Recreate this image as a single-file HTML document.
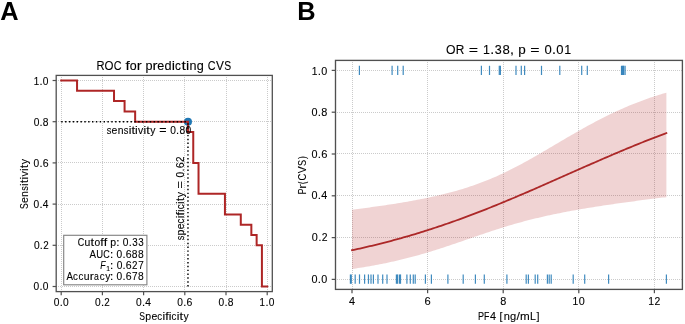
<!DOCTYPE html>
<html><head><meta charset="utf-8"><style>
html,body{margin:0;padding:0;background:#fff;}
body{width:685px;height:324px;overflow:hidden;}
svg{display:block;will-change:transform;}
text{font-family:"Liberation Sans",sans-serif;}
</style></head><body>
<svg width="685" height="324" viewBox="0 0 685 324" font-family="Liberation Sans, sans-serif">
<rect width="685" height="324" fill="#fff"/>
<text x="0.3" y="20.2" font-size="25.4" font-weight="bold" fill="#000">A</text>
<text x="297.3" y="20.2" font-size="25.4" font-weight="bold" fill="#000">B</text>
<line x1="61.50" y1="75" x2="61.50" y2="291.6" stroke="#cbcbcb" stroke-width="1" stroke-dasharray="1 1"/>
<line x1="56" y1="286.50" x2="272.3" y2="286.50" stroke="#cbcbcb" stroke-width="1" stroke-dasharray="1 1"/>
<line x1="102.50" y1="75" x2="102.50" y2="291.6" stroke="#cbcbcb" stroke-width="1" stroke-dasharray="1 1"/>
<line x1="56" y1="245.50" x2="272.3" y2="245.50" stroke="#cbcbcb" stroke-width="1" stroke-dasharray="1 1"/>
<line x1="143.50" y1="75" x2="143.50" y2="291.6" stroke="#cbcbcb" stroke-width="1" stroke-dasharray="1 1"/>
<line x1="56" y1="204.50" x2="272.3" y2="204.50" stroke="#cbcbcb" stroke-width="1" stroke-dasharray="1 1"/>
<line x1="184.50" y1="75" x2="184.50" y2="291.6" stroke="#cbcbcb" stroke-width="1" stroke-dasharray="1 1"/>
<line x1="56" y1="162.50" x2="272.3" y2="162.50" stroke="#cbcbcb" stroke-width="1" stroke-dasharray="1 1"/>
<line x1="226.50" y1="75" x2="226.50" y2="291.6" stroke="#cbcbcb" stroke-width="1" stroke-dasharray="1 1"/>
<line x1="56" y1="121.50" x2="272.3" y2="121.50" stroke="#cbcbcb" stroke-width="1" stroke-dasharray="1 1"/>
<line x1="267.50" y1="75" x2="267.50" y2="291.6" stroke="#cbcbcb" stroke-width="1" stroke-dasharray="1 1"/>
<line x1="56" y1="80.50" x2="272.3" y2="80.50" stroke="#cbcbcb" stroke-width="1" stroke-dasharray="1 1"/>
<circle cx="187.97" cy="121.70" r="4.0" fill="#1f77b4"/>
<path d="M61.20,80.50 L77.05,80.50 L77.05,90.80 L114.02,90.80 L114.02,101.10 L124.58,101.10 L124.58,111.40 L135.15,111.40 L135.15,121.70 L187.97,121.70 L187.97,132.00 L193.25,132.00 L193.25,162.90 L198.53,162.90 L198.53,193.80 L224.94,193.80 L224.94,214.40 L240.79,214.40 L240.79,224.70 L251.35,224.70 L251.35,235.00 L256.64,235.00 L256.64,245.30 L261.92,245.30 L261.92,286.50 L267.20,286.50" fill="none" stroke="#ae2626" stroke-width="2" stroke-linejoin="miter" stroke-linecap="square"/>
<line x1="61.20" y1="121.70" x2="187.97" y2="121.70" stroke="#000" stroke-width="1.45" stroke-dasharray="1.45 2.4"/>
<line x1="187.97" y1="286.50" x2="187.97" y2="121.70" stroke="#000" stroke-width="1.45" stroke-dasharray="1.45 2.4"/>
<g font-size="10.15" fill="#000" stroke="#000" stroke-width="0.1"><text transform="translate(109.06 133.50) scale(0.913 1)" text-anchor="middle">s</text><text transform="translate(114.51 133.50) scale(1.029 1)" text-anchor="middle">e</text><text transform="translate(120.55 133.50) scale(1.027 1)" text-anchor="middle">n</text><text transform="translate(126.17 133.50) scale(0.913 1)" text-anchor="middle">s</text><text transform="translate(129.98 133.50) scale(1.191 1)" text-anchor="middle">i</text><text transform="translate(133.18 133.50) scale(1.273 1)" text-anchor="middle">t</text><text transform="translate(136.46 133.50) scale(1.191 1)" text-anchor="middle">i</text><text transform="translate(140.66 133.50) scale(1.028 1)" text-anchor="middle">v</text><text transform="translate(144.87 133.50) scale(1.191 1)" text-anchor="middle">i</text><text transform="translate(148.06 133.50) scale(1.273 1)" text-anchor="middle">t</text><text transform="translate(152.85 133.50) scale(1.023 1)" text-anchor="middle">y</text><text transform="translate(162.85 133.50) scale(1.227 1)" text-anchor="middle">=</text><text transform="translate(173.04 133.50) scale(1.004 1)" text-anchor="middle">0</text><text transform="translate(177.65 133.50) scale(1.090 1)" text-anchor="middle">.</text><text transform="translate(182.27 133.50) scale(1.015 1)" text-anchor="middle">8</text><text transform="translate(188.42 133.50) scale(1.004 1)" text-anchor="middle">0</text></g>
<g font-size="10.15" fill="#000" stroke="#000" stroke-width="0.1"><text transform="translate(183.90 0) rotate(-90) translate(-238.05 0) scale(0.913 1)" text-anchor="middle">s</text><text transform="translate(183.90 0) rotate(-90) translate(-232.47 0) scale(1.036 1)" text-anchor="middle">p</text><text transform="translate(183.90 0) rotate(-90) translate(-226.47 0) scale(1.029 1)" text-anchor="middle">e</text><text transform="translate(183.90 0) rotate(-90) translate(-220.97 0) scale(0.956 1)" text-anchor="middle">c</text><text transform="translate(183.90 0) rotate(-90) translate(-216.85 0) scale(1.191 1)" text-anchor="middle">i</text><text transform="translate(183.90 0) rotate(-90) translate(-213.70 0) scale(1.251 1)" text-anchor="middle">f</text><text transform="translate(183.90 0) rotate(-90) translate(-210.75 0) scale(1.191 1)" text-anchor="middle">i</text><text transform="translate(183.90 0) rotate(-90) translate(-206.87 0) scale(0.956 1)" text-anchor="middle">c</text><text transform="translate(183.90 0) rotate(-90) translate(-202.75 0) scale(1.191 1)" text-anchor="middle">i</text><text transform="translate(183.90 0) rotate(-90) translate(-199.55 0) scale(1.273 1)" text-anchor="middle">t</text><text transform="translate(183.90 0) rotate(-90) translate(-194.76 0) scale(1.023 1)" text-anchor="middle">y</text><text transform="translate(183.90 0) rotate(-90) translate(-184.77 0) scale(1.227 1)" text-anchor="middle">=</text><text transform="translate(183.90 0) rotate(-90) translate(-174.58 0) scale(1.004 1)" text-anchor="middle">0</text><text transform="translate(183.90 0) rotate(-90) translate(-169.97 0) scale(1.090 1)" text-anchor="middle">.</text><text transform="translate(183.90 0) rotate(-90) translate(-165.35 0) scale(1.039 1)" text-anchor="middle">6</text><text transform="translate(183.90 0) rotate(-90) translate(-159.33 0) scale(0.968 1)" text-anchor="middle">2</text></g>
<rect x="63.7" y="235.3" width="83.2" height="49.5" fill="#fff" stroke="#858585" stroke-width="1.15"/>
<g font-size="10.15" fill="#000" stroke="#000" stroke-width="0.1"><text transform="translate(80.93 246.00) scale(0.884 1)" text-anchor="middle">C</text><text transform="translate(87.40 246.00) scale(1.027 1)" text-anchor="middle">u</text><text transform="translate(92.34 246.00) scale(1.273 1)" text-anchor="middle">t</text><text transform="translate(97.24 246.00) scale(1.013 1)" text-anchor="middle">o</text><text transform="translate(102.00 246.00) scale(1.251 1)" text-anchor="middle">f</text><text transform="translate(105.40 246.00) scale(1.251 1)" text-anchor="middle">f</text><text transform="translate(113.20 246.00) scale(1.036 1)" text-anchor="middle">p</text><text transform="translate(117.84 246.00) scale(1.155 1)" text-anchor="middle">:</text><text transform="translate(125.62 246.00) scale(1.004 1)" text-anchor="middle">0</text><text transform="translate(130.23 246.00) scale(1.090 1)" text-anchor="middle">.</text><text transform="translate(134.86 246.00) scale(0.964 1)" text-anchor="middle">3</text><text transform="translate(141.01 246.00) scale(0.964 1)" text-anchor="middle">3</text></g>
<g font-size="10.15" fill="#000" stroke="#000" stroke-width="0.1"><text transform="translate(92.81 258.00) scale(0.959 1)" text-anchor="middle">A</text><text transform="translate(99.66 258.00) scale(0.936 1)" text-anchor="middle">U</text><text transform="translate(106.52 258.00) scale(0.884 1)" text-anchor="middle">C</text><text transform="translate(111.58 258.00) scale(1.155 1)" text-anchor="middle">:</text><text transform="translate(119.35 258.00) scale(1.004 1)" text-anchor="middle">0</text><text transform="translate(123.96 258.00) scale(1.090 1)" text-anchor="middle">.</text><text transform="translate(128.58 258.00) scale(1.039 1)" text-anchor="middle">6</text><text transform="translate(134.73 258.00) scale(1.015 1)" text-anchor="middle">8</text><text transform="translate(140.88 258.00) scale(1.015 1)" text-anchor="middle">8</text></g>
<g font-size="10.15" fill="#000" stroke="#000" stroke-width="0.1" font-style="italic"><text transform="translate(102.87 269.30) scale(0.851 1)" text-anchor="middle">F</text></g>
<g font-size="7.11" fill="#000" stroke="#000" stroke-width="0.1"><text transform="translate(108.08 271.40) scale(0.959 1)" text-anchor="middle">1</text></g>
<g font-size="10.15" fill="#000" stroke="#000" stroke-width="0.1"><text transform="translate(111.74 269.30) scale(1.155 1)" text-anchor="middle">:</text><text transform="translate(119.52 269.30) scale(1.004 1)" text-anchor="middle">0</text><text transform="translate(124.13 269.30) scale(1.090 1)" text-anchor="middle">.</text><text transform="translate(128.74 269.30) scale(1.039 1)" text-anchor="middle">6</text><text transform="translate(134.77 269.30) scale(0.968 1)" text-anchor="middle">2</text><text transform="translate(141.03 269.30) scale(0.982 1)" text-anchor="middle">7</text></g>
<g font-size="10.15" fill="#000" stroke="#000" stroke-width="0.1"><text transform="translate(69.81 280.20) scale(0.959 1)" text-anchor="middle">A</text><text transform="translate(75.49 280.20) scale(0.956 1)" text-anchor="middle">c</text><text transform="translate(80.81 280.20) scale(0.956 1)" text-anchor="middle">c</text><text transform="translate(86.62 280.20) scale(1.027 1)" text-anchor="middle">u</text><text transform="translate(91.81 280.20) scale(1.225 1)" text-anchor="middle">r</text><text transform="translate(96.31 280.20) scale(0.856 1)" text-anchor="middle">a</text><text transform="translate(102.16 280.20) scale(0.956 1)" text-anchor="middle">c</text><text transform="translate(107.79 280.20) scale(1.023 1)" text-anchor="middle">y</text><text transform="translate(111.58 280.20) scale(1.155 1)" text-anchor="middle">:</text><text transform="translate(119.35 280.20) scale(1.004 1)" text-anchor="middle">0</text><text transform="translate(123.96 280.20) scale(1.090 1)" text-anchor="middle">.</text><text transform="translate(128.58 280.20) scale(1.039 1)" text-anchor="middle">6</text><text transform="translate(134.71 280.20) scale(0.982 1)" text-anchor="middle">7</text><text transform="translate(140.88 280.20) scale(1.015 1)" text-anchor="middle">8</text></g>
<rect x="56.2" y="75.4" width="216.10" height="216.20" fill="none" stroke="#505050" stroke-width="1.3"/>
<line x1="61.20" y1="291.6" x2="61.20" y2="295.20" stroke="#505050" stroke-width="1.2"/>
<line x1="56.2" y1="286.50" x2="52.60" y2="286.50" stroke="#505050" stroke-width="1.2"/>
<g font-size="10.15" fill="#000" stroke="#000" stroke-width="0.1"><text transform="translate(56.59 306.30) scale(1.004 1)" text-anchor="middle">0</text><text transform="translate(61.20 306.30) scale(1.090 1)" text-anchor="middle">.</text><text transform="translate(65.81 306.30) scale(1.004 1)" text-anchor="middle">0</text></g>
<g font-size="10.15" fill="#000" stroke="#000" stroke-width="0.1"><text transform="translate(36.44 290.00) scale(1.004 1)" text-anchor="middle">0</text><text transform="translate(41.05 290.00) scale(1.090 1)" text-anchor="middle">.</text><text transform="translate(45.66 290.00) scale(1.004 1)" text-anchor="middle">0</text></g>
<line x1="102.40" y1="291.6" x2="102.40" y2="295.20" stroke="#505050" stroke-width="1.2"/>
<line x1="56.2" y1="245.30" x2="52.60" y2="245.30" stroke="#505050" stroke-width="1.2"/>
<g font-size="10.15" fill="#000" stroke="#000" stroke-width="0.1"><text transform="translate(97.95 306.30) scale(1.004 1)" text-anchor="middle">0</text><text transform="translate(102.56 306.30) scale(1.090 1)" text-anchor="middle">.</text><text transform="translate(107.05 306.30) scale(0.968 1)" text-anchor="middle">2</text></g>
<g font-size="10.15" fill="#000" stroke="#000" stroke-width="0.1"><text transform="translate(36.76 249.00) scale(1.004 1)" text-anchor="middle">0</text><text transform="translate(41.37 249.00) scale(1.090 1)" text-anchor="middle">.</text><text transform="translate(45.86 249.00) scale(0.968 1)" text-anchor="middle">2</text></g>
<line x1="143.60" y1="291.6" x2="143.60" y2="295.20" stroke="#505050" stroke-width="1.2"/>
<line x1="56.2" y1="204.10" x2="52.60" y2="204.10" stroke="#505050" stroke-width="1.2"/>
<g font-size="10.15" fill="#000" stroke="#000" stroke-width="0.1"><text transform="translate(138.94 306.30) scale(1.004 1)" text-anchor="middle">0</text><text transform="translate(143.55 306.30) scale(1.090 1)" text-anchor="middle">.</text><text transform="translate(148.16 306.30) scale(1.004 1)" text-anchor="middle">4</text></g>
<g font-size="10.15" fill="#000" stroke="#000" stroke-width="0.1"><text transform="translate(36.34 208.00) scale(1.004 1)" text-anchor="middle">0</text><text transform="translate(40.95 208.00) scale(1.090 1)" text-anchor="middle">.</text><text transform="translate(45.56 208.00) scale(1.004 1)" text-anchor="middle">4</text></g>
<line x1="184.80" y1="291.6" x2="184.80" y2="295.20" stroke="#505050" stroke-width="1.2"/>
<line x1="56.2" y1="162.90" x2="52.60" y2="162.90" stroke="#505050" stroke-width="1.2"/>
<g font-size="10.15" fill="#000" stroke="#000" stroke-width="0.1"><text transform="translate(180.17 306.30) scale(1.004 1)" text-anchor="middle">0</text><text transform="translate(184.78 306.30) scale(1.090 1)" text-anchor="middle">.</text><text transform="translate(189.40 306.30) scale(1.039 1)" text-anchor="middle">6</text></g>
<g font-size="10.15" fill="#000" stroke="#000" stroke-width="0.1"><text transform="translate(36.40 167.00) scale(1.004 1)" text-anchor="middle">0</text><text transform="translate(41.01 167.00) scale(1.090 1)" text-anchor="middle">.</text><text transform="translate(45.63 167.00) scale(1.039 1)" text-anchor="middle">6</text></g>
<line x1="226.00" y1="291.6" x2="226.00" y2="295.20" stroke="#505050" stroke-width="1.2"/>
<line x1="56.2" y1="121.70" x2="52.60" y2="121.70" stroke="#505050" stroke-width="1.2"/>
<g font-size="10.15" fill="#000" stroke="#000" stroke-width="0.1"><text transform="translate(221.40 306.30) scale(1.004 1)" text-anchor="middle">0</text><text transform="translate(226.01 306.30) scale(1.090 1)" text-anchor="middle">.</text><text transform="translate(230.62 306.30) scale(1.015 1)" text-anchor="middle">8</text></g>
<g font-size="10.15" fill="#000" stroke="#000" stroke-width="0.1"><text transform="translate(36.46 126.00) scale(1.004 1)" text-anchor="middle">0</text><text transform="translate(41.07 126.00) scale(1.090 1)" text-anchor="middle">.</text><text transform="translate(45.68 126.00) scale(1.015 1)" text-anchor="middle">8</text></g>
<line x1="267.20" y1="291.6" x2="267.20" y2="295.20" stroke="#505050" stroke-width="1.2"/>
<line x1="56.2" y1="80.50" x2="52.60" y2="80.50" stroke="#505050" stroke-width="1.2"/>
<g font-size="10.15" fill="#000" stroke="#000" stroke-width="0.1"><text transform="translate(262.33 306.30) scale(0.959 1)" text-anchor="middle">1</text><text transform="translate(266.99 306.30) scale(1.090 1)" text-anchor="middle">.</text><text transform="translate(271.60 306.30) scale(1.004 1)" text-anchor="middle">0</text></g>
<g font-size="10.15" fill="#000" stroke="#000" stroke-width="0.1"><text transform="translate(36.39 85.00) scale(0.959 1)" text-anchor="middle">1</text><text transform="translate(41.05 85.00) scale(1.090 1)" text-anchor="middle">.</text><text transform="translate(45.66 85.00) scale(1.004 1)" text-anchor="middle">0</text></g>
<g font-size="10.15" fill="#000" stroke="#000" stroke-width="0.1"><text transform="translate(142.13 319.60) scale(0.849 1)" text-anchor="middle">S</text><text transform="translate(148.27 319.60) scale(1.036 1)" text-anchor="middle">p</text><text transform="translate(154.28 319.60) scale(1.029 1)" text-anchor="middle">e</text><text transform="translate(159.78 319.60) scale(0.956 1)" text-anchor="middle">c</text><text transform="translate(163.90 319.60) scale(1.191 1)" text-anchor="middle">i</text><text transform="translate(167.04 319.60) scale(1.251 1)" text-anchor="middle">f</text><text transform="translate(169.99 319.60) scale(1.191 1)" text-anchor="middle">i</text><text transform="translate(173.87 319.60) scale(0.956 1)" text-anchor="middle">c</text><text transform="translate(177.99 319.60) scale(1.191 1)" text-anchor="middle">i</text><text transform="translate(181.19 319.60) scale(1.273 1)" text-anchor="middle">t</text><text transform="translate(185.98 319.60) scale(1.023 1)" text-anchor="middle">y</text></g>
<g font-size="10.15" fill="#000" stroke="#000" stroke-width="0.1"><text transform="translate(27.90 0) rotate(-90) translate(-206.08 0) scale(0.849 1)" text-anchor="middle">S</text><text transform="translate(27.90 0) rotate(-90) translate(-200.06 0) scale(1.029 1)" text-anchor="middle">e</text><text transform="translate(27.90 0) rotate(-90) translate(-194.02 0) scale(1.027 1)" text-anchor="middle">n</text><text transform="translate(27.90 0) rotate(-90) translate(-188.40 0) scale(0.913 1)" text-anchor="middle">s</text><text transform="translate(27.90 0) rotate(-90) translate(-184.59 0) scale(1.191 1)" text-anchor="middle">i</text><text transform="translate(27.90 0) rotate(-90) translate(-181.40 0) scale(1.273 1)" text-anchor="middle">t</text><text transform="translate(27.90 0) rotate(-90) translate(-178.11 0) scale(1.191 1)" text-anchor="middle">i</text><text transform="translate(27.90 0) rotate(-90) translate(-173.92 0) scale(1.028 1)" text-anchor="middle">v</text><text transform="translate(27.90 0) rotate(-90) translate(-169.70 0) scale(1.191 1)" text-anchor="middle">i</text><text transform="translate(27.90 0) rotate(-90) translate(-166.51 0) scale(1.273 1)" text-anchor="middle">t</text><text transform="translate(27.90 0) rotate(-90) translate(-161.72 0) scale(1.023 1)" text-anchor="middle">y</text></g>
<g font-size="12.25" fill="#000" stroke="#000" stroke-width="0.1"><text transform="translate(100.53 69.60) scale(0.911 1)" text-anchor="middle">R</text><text transform="translate(108.97 69.60) scale(0.941 1)" text-anchor="middle">O</text><text transform="translate(117.58 69.60) scale(0.884 1)" text-anchor="middle">C</text><text transform="translate(127.60 69.60) scale(1.251 1)" text-anchor="middle">f</text><text transform="translate(133.10 69.60) scale(1.013 1)" text-anchor="middle">o</text><text transform="translate(139.21 69.60) scale(1.225 1)" text-anchor="middle">r</text><text transform="translate(148.95 69.60) scale(1.036 1)" text-anchor="middle">p</text><text transform="translate(155.12 69.60) scale(1.225 1)" text-anchor="middle">r</text><text transform="translate(160.74 69.60) scale(1.029 1)" text-anchor="middle">e</text><text transform="translate(167.94 69.60) scale(1.035 1)" text-anchor="middle">d</text><text transform="translate(173.34 69.60) scale(1.191 1)" text-anchor="middle">i</text><text transform="translate(178.03 69.60) scale(0.956 1)" text-anchor="middle">c</text><text transform="translate(183.61 69.60) scale(1.273 1)" text-anchor="middle">t</text><text transform="translate(187.57 69.60) scale(1.191 1)" text-anchor="middle">i</text><text transform="translate(192.91 69.60) scale(1.027 1)" text-anchor="middle">n</text><text transform="translate(200.22 69.60) scale(1.035 1)" text-anchor="middle">g</text><text transform="translate(211.72 69.60) scale(0.884 1)" text-anchor="middle">C</text><text transform="translate(219.84 69.60) scale(0.967 1)" text-anchor="middle">V</text><text transform="translate(227.60 69.60) scale(0.849 1)" text-anchor="middle">S</text></g>
<line x1="352.50" y1="60" x2="352.50" y2="289.4" stroke="#cbcbcb" stroke-width="1" stroke-dasharray="1 1"/>
<line x1="427.50" y1="60" x2="427.50" y2="289.4" stroke="#cbcbcb" stroke-width="1" stroke-dasharray="1 1"/>
<line x1="503.50" y1="60" x2="503.50" y2="289.4" stroke="#cbcbcb" stroke-width="1" stroke-dasharray="1 1"/>
<line x1="578.50" y1="60" x2="578.50" y2="289.4" stroke="#cbcbcb" stroke-width="1" stroke-dasharray="1 1"/>
<line x1="654.50" y1="60" x2="654.50" y2="289.4" stroke="#cbcbcb" stroke-width="1" stroke-dasharray="1 1"/>
<line x1="335" y1="279.50" x2="682.4" y2="279.50" stroke="#cbcbcb" stroke-width="1" stroke-dasharray="1 1"/>
<line x1="335" y1="237.50" x2="682.4" y2="237.50" stroke="#cbcbcb" stroke-width="1" stroke-dasharray="1 1"/>
<line x1="335" y1="195.50" x2="682.4" y2="195.50" stroke="#cbcbcb" stroke-width="1" stroke-dasharray="1 1"/>
<line x1="335" y1="153.50" x2="682.4" y2="153.50" stroke="#cbcbcb" stroke-width="1" stroke-dasharray="1 1"/>
<line x1="335" y1="112.50" x2="682.4" y2="112.50" stroke="#cbcbcb" stroke-width="1" stroke-dasharray="1 1"/>
<line x1="335" y1="70.50" x2="682.4" y2="70.50" stroke="#cbcbcb" stroke-width="1" stroke-dasharray="1 1"/>
<path d="M352.00,209.67 L353.98,209.43 L355.95,209.18 L357.93,208.93 L359.91,208.68 L361.89,208.43 L363.86,208.17 L365.84,207.91 L367.82,207.65 L369.80,207.38 L371.77,207.11 L373.75,206.84 L375.73,206.57 L377.70,206.29 L379.68,206.01 L381.66,205.73 L383.64,205.44 L385.61,205.15 L387.59,204.85 L389.57,204.55 L391.54,204.25 L393.52,203.94 L395.50,203.63 L397.48,203.31 L399.45,202.99 L401.43,202.67 L403.41,202.33 L405.39,202.00 L407.36,201.66 L409.34,201.31 L411.32,200.96 L413.29,200.60 L415.27,200.23 L417.25,199.86 L419.23,199.48 L421.20,199.10 L423.18,198.70 L425.16,198.30 L427.14,197.90 L429.11,197.48 L431.09,197.06 L433.07,196.62 L435.04,196.18 L437.02,195.73 L439.00,195.27 L440.98,194.80 L442.95,194.33 L444.93,193.84 L446.91,193.34 L448.89,192.82 L450.86,192.30 L452.84,191.77 L454.82,191.22 L456.79,190.66 L458.77,190.09 L460.75,189.50 L462.73,188.90 L464.70,188.29 L466.68,187.67 L468.66,187.02 L470.63,186.37 L472.61,185.70 L474.59,185.01 L476.57,184.31 L478.54,183.59 L480.52,182.85 L482.50,182.10 L484.48,181.34 L486.45,180.55 L488.43,179.75 L490.41,178.94 L492.38,178.10 L494.36,177.25 L496.34,176.38 L498.32,175.50 L500.29,174.60 L502.27,173.68 L504.25,172.75 L506.23,171.80 L508.20,170.83 L510.18,169.85 L512.16,168.86 L514.13,167.85 L516.11,166.83 L518.09,165.79 L520.07,164.74 L522.04,163.68 L524.02,162.60 L526.00,161.52 L527.98,160.42 L529.95,159.32 L531.93,158.20 L533.91,157.08 L535.88,155.95 L537.86,154.81 L539.84,153.66 L541.82,152.51 L543.79,151.36 L545.77,150.20 L547.75,149.04 L549.72,147.87 L551.70,146.70 L553.68,145.53 L555.66,144.36 L557.63,143.19 L559.61,142.02 L561.59,140.86 L563.57,139.69 L565.54,138.53 L567.52,137.37 L569.50,136.22 L571.47,135.07 L573.45,133.92 L575.43,132.79 L577.41,131.65 L579.38,130.53 L581.36,129.41 L583.34,128.30 L585.32,127.20 L587.29,126.11 L589.27,125.03 L591.25,123.96 L593.22,122.90 L595.20,121.85 L597.18,120.81 L599.16,119.78 L601.13,118.76 L603.11,117.76 L605.09,116.77 L607.07,115.79 L609.04,114.82 L611.02,113.86 L613.00,112.92 L614.97,111.99 L616.95,111.08 L618.93,110.18 L620.91,109.29 L622.88,108.41 L624.86,107.55 L626.84,106.71 L628.81,105.87 L630.79,105.05 L632.77,104.25 L634.75,103.46 L636.72,102.68 L638.70,101.92 L640.68,101.17 L642.66,100.43 L644.63,99.71 L646.61,99.00 L648.59,98.30 L650.56,97.62 L652.54,96.95 L654.52,96.30 L656.50,95.66 L658.47,95.03 L660.45,94.41 L662.43,93.81 L664.41,93.22 L666.38,92.64 L666.38,197.14 L664.41,197.38 L662.43,197.62 L660.45,197.86 L658.47,198.10 L656.50,198.35 L654.52,198.60 L652.54,198.84 L650.56,199.09 L648.59,199.34 L646.61,199.59 L644.63,199.85 L642.66,200.10 L640.68,200.36 L638.70,200.62 L636.72,200.87 L634.75,201.14 L632.77,201.40 L630.79,201.66 L628.81,201.93 L626.84,202.20 L624.86,202.47 L622.88,202.74 L620.91,203.02 L618.93,203.30 L616.95,203.58 L614.97,203.86 L613.00,204.14 L611.02,204.43 L609.04,204.72 L607.07,205.01 L605.09,205.31 L603.11,205.61 L601.13,205.91 L599.16,206.21 L597.18,206.52 L595.20,206.83 L593.22,207.14 L591.25,207.46 L589.27,207.78 L587.29,208.11 L585.32,208.44 L583.34,208.77 L581.36,209.11 L579.38,209.45 L577.41,209.79 L575.43,210.14 L573.45,210.50 L571.47,210.86 L569.50,211.22 L567.52,211.59 L565.54,211.97 L563.57,212.35 L561.59,212.74 L559.61,213.13 L557.63,213.53 L555.66,213.93 L553.68,214.34 L551.70,214.76 L549.72,215.18 L547.75,215.61 L545.77,216.05 L543.79,216.50 L541.82,216.95 L539.84,217.41 L537.86,217.88 L535.88,218.35 L533.91,218.83 L531.93,219.32 L529.95,219.82 L527.98,220.33 L526.00,220.85 L524.02,221.37 L522.04,221.90 L520.07,222.44 L518.09,222.99 L516.11,223.55 L514.13,224.11 L512.16,224.69 L510.18,225.27 L508.20,225.86 L506.23,226.46 L504.25,227.06 L502.27,227.67 L500.29,228.29 L498.32,228.92 L496.34,229.55 L494.36,230.19 L492.38,230.84 L490.41,231.49 L488.43,232.15 L486.45,232.81 L484.48,233.48 L482.50,234.15 L480.52,234.82 L478.54,235.50 L476.57,236.18 L474.59,236.86 L472.61,237.54 L470.63,238.22 L468.66,238.91 L466.68,239.59 L464.70,240.28 L462.73,240.96 L460.75,241.64 L458.77,242.32 L456.79,243.00 L454.82,243.67 L452.84,244.34 L450.86,245.01 L448.89,245.67 L446.91,246.33 L444.93,246.98 L442.95,247.63 L440.98,248.27 L439.00,248.91 L437.02,249.54 L435.04,250.16 L433.07,250.78 L431.09,251.39 L429.11,251.99 L427.14,252.58 L425.16,253.17 L423.18,253.75 L421.20,254.32 L419.23,254.88 L417.25,255.44 L415.27,255.98 L413.29,256.52 L411.32,257.05 L409.34,257.57 L407.36,258.08 L405.39,258.58 L403.41,259.08 L401.43,259.56 L399.45,260.04 L397.48,260.51 L395.50,260.97 L393.52,261.42 L391.54,261.86 L389.57,262.29 L387.59,262.71 L385.61,263.13 L383.64,263.54 L381.66,263.94 L379.68,264.33 L377.70,264.71 L375.73,265.08 L373.75,265.45 L371.77,265.81 L369.80,266.16 L367.82,266.50 L365.84,266.83 L363.86,267.16 L361.89,267.48 L359.91,267.79 L357.93,268.10 L355.95,268.39 L353.98,268.68 L352.00,268.97 Z" fill="#b22222" fill-opacity="0.2" stroke="none"/>
<path d="M352.00,250.23 L353.98,249.81 L355.95,249.38 L357.93,248.95 L359.91,248.51 L361.89,248.07 L363.86,247.62 L365.84,247.16 L367.82,246.70 L369.80,246.24 L371.77,245.77 L373.75,245.29 L375.73,244.81 L377.70,244.32 L379.68,243.83 L381.66,243.33 L383.64,242.83 L385.61,242.32 L387.59,241.81 L389.57,241.29 L391.54,240.76 L393.52,240.23 L395.50,239.69 L397.48,239.15 L399.45,238.60 L401.43,238.05 L403.41,237.49 L405.39,236.92 L407.36,236.35 L409.34,235.78 L411.32,235.20 L413.29,234.61 L415.27,234.02 L417.25,233.42 L419.23,232.81 L421.20,232.20 L423.18,231.59 L425.16,230.97 L427.14,230.34 L429.11,229.71 L431.09,229.07 L433.07,228.42 L435.04,227.77 L437.02,227.12 L439.00,226.46 L440.98,225.79 L442.95,225.12 L444.93,224.45 L446.91,223.76 L448.89,223.08 L450.86,222.38 L452.84,221.69 L454.82,220.98 L456.79,220.27 L458.77,219.56 L460.75,218.84 L462.73,218.12 L464.70,217.39 L466.68,216.65 L468.66,215.92 L470.63,215.17 L472.61,214.42 L474.59,213.67 L476.57,212.91 L478.54,212.15 L480.52,211.38 L482.50,210.61 L484.48,209.83 L486.45,209.05 L488.43,208.27 L490.41,207.48 L492.38,206.69 L494.36,205.89 L496.34,205.09 L498.32,204.28 L500.29,203.47 L502.27,202.66 L504.25,201.84 L506.23,201.02 L508.20,200.20 L510.18,199.37 L512.16,198.54 L514.13,197.71 L516.11,196.87 L518.09,196.04 L520.07,195.19 L522.04,194.35 L524.02,193.50 L526.00,192.65 L527.98,191.80 L529.95,190.95 L531.93,190.09 L533.91,189.23 L535.88,188.37 L537.86,187.51 L539.84,186.64 L541.82,185.78 L543.79,184.91 L545.77,184.04 L547.75,183.17 L549.72,182.30 L551.70,181.42 L553.68,180.55 L555.66,179.68 L557.63,178.80 L559.61,177.93 L561.59,177.05 L563.57,176.17 L565.54,175.30 L567.52,174.42 L569.50,173.55 L571.47,172.67 L573.45,171.79 L575.43,170.92 L577.41,170.04 L579.38,169.17 L581.36,168.30 L583.34,167.42 L585.32,166.55 L587.29,165.68 L589.27,164.81 L591.25,163.95 L593.22,163.08 L595.20,162.22 L597.18,161.35 L599.16,160.49 L601.13,159.63 L603.11,158.78 L605.09,157.92 L607.07,157.07 L609.04,156.22 L611.02,155.37 L613.00,154.53 L614.97,153.69 L616.95,152.85 L618.93,152.01 L620.91,151.18 L622.88,150.35 L624.86,149.52 L626.84,148.70 L628.81,147.88 L630.79,147.07 L632.77,146.25 L634.75,145.44 L636.72,144.64 L638.70,143.84 L640.68,143.04 L642.66,142.25 L644.63,141.46 L646.61,140.68 L648.59,139.90 L650.56,139.12 L652.54,138.35 L654.52,137.58 L656.50,136.82 L658.47,136.06 L660.45,135.31 L662.43,134.56 L664.41,133.82 L666.38,133.08" fill="none" stroke="#ac2828" stroke-width="1.8" stroke-linecap="square"/>
<g stroke="#1f77b4" stroke-width="1.2" stroke-opacity="0.85"><line x1="359.40" y1="65.8" x2="359.40" y2="75.0"/><line x1="392.10" y1="65.8" x2="392.10" y2="75.0"/><line x1="397.70" y1="65.8" x2="397.70" y2="75.0"/><line x1="403.20" y1="65.8" x2="403.20" y2="75.0"/><line x1="481.40" y1="65.8" x2="481.40" y2="75.0"/><line x1="489.50" y1="65.8" x2="489.50" y2="75.0"/><line x1="499.30" y1="65.8" x2="499.30" y2="75.0"/><line x1="500.40" y1="65.8" x2="500.40" y2="75.0"/><line x1="516.00" y1="65.8" x2="516.00" y2="75.0"/><line x1="521.30" y1="65.8" x2="521.30" y2="75.0"/><line x1="524.60" y1="65.8" x2="524.60" y2="75.0"/><line x1="541.50" y1="65.8" x2="541.50" y2="75.0"/><line x1="559.80" y1="65.8" x2="559.80" y2="75.0"/><line x1="581.70" y1="65.8" x2="581.70" y2="75.0"/><line x1="587.30" y1="65.8" x2="587.30" y2="75.0"/><line x1="621.50" y1="65.8" x2="621.50" y2="75.0"/><line x1="622.30" y1="65.8" x2="622.30" y2="75.0"/><line x1="623.10" y1="65.8" x2="623.10" y2="75.0"/><line x1="623.70" y1="65.8" x2="623.70" y2="75.0"/><line x1="625.10" y1="65.8" x2="625.10" y2="75.0"/><line x1="350.40" y1="274.4" x2="350.40" y2="283.8"/><line x1="351.30" y1="274.4" x2="351.30" y2="283.8"/><line x1="355.20" y1="274.4" x2="355.20" y2="283.8"/><line x1="359.50" y1="274.4" x2="359.50" y2="283.8"/><line x1="364.60" y1="274.4" x2="364.60" y2="283.8"/><line x1="368.45" y1="274.4" x2="368.45" y2="283.8"/><line x1="371.00" y1="274.4" x2="371.00" y2="283.8"/><line x1="373.40" y1="274.4" x2="373.40" y2="283.8"/><line x1="378.00" y1="274.4" x2="378.00" y2="283.8"/><line x1="382.70" y1="274.4" x2="382.70" y2="283.8"/><line x1="387.00" y1="274.4" x2="387.00" y2="283.8"/><line x1="396.40" y1="274.4" x2="396.40" y2="283.8"/><line x1="397.50" y1="274.4" x2="397.50" y2="283.8"/><line x1="399.40" y1="274.4" x2="399.40" y2="283.8"/><line x1="400.50" y1="274.4" x2="400.50" y2="283.8"/><line x1="406.90" y1="274.4" x2="406.90" y2="283.8"/><line x1="410.30" y1="274.4" x2="410.30" y2="283.8"/><line x1="413.30" y1="274.4" x2="413.30" y2="283.8"/><line x1="415.20" y1="274.4" x2="415.20" y2="283.8"/><line x1="425.40" y1="274.4" x2="425.40" y2="283.8"/><line x1="431.40" y1="274.4" x2="431.40" y2="283.8"/><line x1="447.90" y1="274.4" x2="447.90" y2="283.8"/><line x1="463.20" y1="274.4" x2="463.20" y2="283.8"/><line x1="475.40" y1="274.4" x2="475.40" y2="283.8"/><line x1="484.30" y1="274.4" x2="484.30" y2="283.8"/><line x1="506.90" y1="274.4" x2="506.90" y2="283.8"/><line x1="526.20" y1="274.4" x2="526.20" y2="283.8"/><line x1="528.40" y1="274.4" x2="528.40" y2="283.8"/><line x1="535.20" y1="274.4" x2="535.20" y2="283.8"/><line x1="537.70" y1="274.4" x2="537.70" y2="283.8"/><line x1="547.40" y1="274.4" x2="547.40" y2="283.8"/><line x1="549.20" y1="274.4" x2="549.20" y2="283.8"/><line x1="551.20" y1="274.4" x2="551.20" y2="283.8"/><line x1="573.20" y1="274.4" x2="573.20" y2="283.8"/><line x1="584.70" y1="274.4" x2="584.70" y2="283.8"/><line x1="608.60" y1="274.4" x2="608.60" y2="283.8"/><line x1="666.40" y1="274.4" x2="666.40" y2="283.8"/></g>
<rect x="335.5" y="60.4" width="346.90" height="229.00" fill="none" stroke="#505050" stroke-width="1.35"/>
<line x1="352.00" y1="289.4" x2="352.00" y2="293.20" stroke="#505050" stroke-width="1.25"/>
<g font-size="10.76" fill="#000" stroke="#000" stroke-width="0.1"><text transform="translate(352.03 305.20) scale(1.004 1)" text-anchor="middle">4</text></g>
<line x1="427.60" y1="289.4" x2="427.60" y2="293.20" stroke="#505050" stroke-width="1.25"/>
<g font-size="10.76" fill="#000" stroke="#000" stroke-width="0.1"><text transform="translate(427.56 305.20) scale(1.039 1)" text-anchor="middle">6</text></g>
<line x1="503.20" y1="289.4" x2="503.20" y2="293.20" stroke="#505050" stroke-width="1.25"/>
<g font-size="10.76" fill="#000" stroke="#000" stroke-width="0.1"><text transform="translate(503.20 305.20) scale(1.015 1)" text-anchor="middle">8</text></g>
<line x1="578.80" y1="289.4" x2="578.80" y2="293.20" stroke="#505050" stroke-width="1.25"/>
<g font-size="10.76" fill="#000" stroke="#000" stroke-width="0.1"><text transform="translate(575.27 305.20) scale(0.959 1)" text-anchor="middle">1</text><text transform="translate(581.84 305.20) scale(1.004 1)" text-anchor="middle">0</text></g>
<line x1="654.40" y1="289.4" x2="654.40" y2="293.20" stroke="#505050" stroke-width="1.25"/>
<g font-size="10.76" fill="#000" stroke="#000" stroke-width="0.1"><text transform="translate(651.04 305.20) scale(0.959 1)" text-anchor="middle">1</text><text transform="translate(657.47 305.20) scale(0.968 1)" text-anchor="middle">2</text></g>
<line x1="335.5" y1="279.40" x2="331.70" y2="279.40" stroke="#505050" stroke-width="1.25"/>
<g font-size="10.76" fill="#000" stroke="#000" stroke-width="0.1"><text transform="translate(314.54 283.00) scale(1.004 1)" text-anchor="middle">0</text><text transform="translate(319.43 283.00) scale(1.090 1)" text-anchor="middle">.</text><text transform="translate(324.32 283.00) scale(1.004 1)" text-anchor="middle">0</text></g>
<line x1="335.5" y1="237.60" x2="331.70" y2="237.60" stroke="#505050" stroke-width="1.25"/>
<g font-size="10.76" fill="#000" stroke="#000" stroke-width="0.1"><text transform="translate(314.88 241.00) scale(1.004 1)" text-anchor="middle">0</text><text transform="translate(319.77 241.00) scale(1.090 1)" text-anchor="middle">.</text><text transform="translate(324.53 241.00) scale(0.968 1)" text-anchor="middle">2</text></g>
<line x1="335.5" y1="195.80" x2="331.70" y2="195.80" stroke="#505050" stroke-width="1.25"/>
<g font-size="10.76" fill="#000" stroke="#000" stroke-width="0.1"><text transform="translate(314.43 199.00) scale(1.004 1)" text-anchor="middle">0</text><text transform="translate(319.32 199.00) scale(1.090 1)" text-anchor="middle">.</text><text transform="translate(324.21 199.00) scale(1.004 1)" text-anchor="middle">4</text></g>
<line x1="335.5" y1="154.00" x2="331.70" y2="154.00" stroke="#505050" stroke-width="1.25"/>
<g font-size="10.76" fill="#000" stroke="#000" stroke-width="0.1"><text transform="translate(314.50 158.00) scale(1.004 1)" text-anchor="middle">0</text><text transform="translate(319.39 158.00) scale(1.090 1)" text-anchor="middle">.</text><text transform="translate(324.28 158.00) scale(1.039 1)" text-anchor="middle">6</text></g>
<line x1="335.5" y1="112.20" x2="331.70" y2="112.20" stroke="#505050" stroke-width="1.25"/>
<g font-size="10.76" fill="#000" stroke="#000" stroke-width="0.1"><text transform="translate(314.56 116.00) scale(1.004 1)" text-anchor="middle">0</text><text transform="translate(319.44 116.00) scale(1.090 1)" text-anchor="middle">.</text><text transform="translate(324.34 116.00) scale(1.015 1)" text-anchor="middle">8</text></g>
<line x1="335.5" y1="70.40" x2="331.70" y2="70.40" stroke="#505050" stroke-width="1.25"/>
<g font-size="10.76" fill="#000" stroke="#000" stroke-width="0.1"><text transform="translate(314.49 75.00) scale(0.959 1)" text-anchor="middle">1</text><text transform="translate(319.43 75.00) scale(1.090 1)" text-anchor="middle">.</text><text transform="translate(324.32 75.00) scale(1.004 1)" text-anchor="middle">0</text></g>
<g font-size="10.76" fill="#000" stroke="#000" stroke-width="0.1"><text transform="translate(480.92 319.90) scale(0.842 1)" text-anchor="middle">P</text><text transform="translate(486.78 319.90) scale(0.816 1)" text-anchor="middle">F</text><text transform="translate(492.97 319.90) scale(1.004 1)" text-anchor="middle">4</text><text transform="translate(501.09 319.90) scale(0.992 1)" text-anchor="middle">[</text><text transform="translate(506.76 319.90) scale(1.027 1)" text-anchor="middle">n</text><text transform="translate(513.18 319.90) scale(1.035 1)" text-anchor="middle">g</text><text transform="translate(518.22 319.90) scale(1.155 1)" text-anchor="middle">/</text><text transform="translate(524.97 319.90) scale(1.085 1)" text-anchor="middle">m</text><text transform="translate(533.00 319.90) scale(0.980 1)" text-anchor="middle">L</text><text transform="translate(538.04 319.90) scale(0.992 1)" text-anchor="middle">]</text></g>
<g font-size="10.76" fill="#000" stroke="#000" stroke-width="0.1"><text transform="translate(305.80 0) rotate(-90) translate(-191.47 0) scale(0.842 1)" text-anchor="middle">P</text><text transform="translate(305.80 0) rotate(-90) translate(-186.52 0) scale(1.225 1)" text-anchor="middle">r</text><text transform="translate(305.80 0) rotate(-90) translate(-182.76 0) scale(0.805 1)" text-anchor="middle">(</text><text transform="translate(305.80 0) rotate(-90) translate(-177.02 0) scale(0.884 1)" text-anchor="middle">C</text><text transform="translate(305.80 0) rotate(-90) translate(-169.88 0) scale(0.967 1)" text-anchor="middle">V</text><text transform="translate(305.80 0) rotate(-90) translate(-163.07 0) scale(0.849 1)" text-anchor="middle">S</text><text transform="translate(305.80 0) rotate(-90) translate(-157.65 0) scale(0.805 1)" text-anchor="middle">)</text></g>
<g font-size="13.02" fill="#000" stroke="#000" stroke-width="0.1"><text transform="translate(450.71 53.60) scale(0.941 1)" text-anchor="middle">O</text><text transform="translate(460.11 53.60) scale(0.911 1)" text-anchor="middle">R</text><text transform="translate(473.34 53.60) scale(1.227 1)" text-anchor="middle">=</text><text transform="translate(486.36 53.60) scale(0.959 1)" text-anchor="middle">1</text><text transform="translate(492.33 53.60) scale(1.090 1)" text-anchor="middle">.</text><text transform="translate(498.26 53.60) scale(0.964 1)" text-anchor="middle">3</text><text transform="translate(506.14 53.60) scale(1.015 1)" text-anchor="middle">8</text><text transform="translate(511.93 53.60) scale(1.090 1)" text-anchor="middle">,</text><text transform="translate(521.98 53.60) scale(1.036 1)" text-anchor="middle">p</text><text transform="translate(534.98 53.60) scale(1.227 1)" text-anchor="middle">=</text><text transform="translate(548.05 53.60) scale(1.004 1)" text-anchor="middle">0</text><text transform="translate(553.97 53.60) scale(1.090 1)" text-anchor="middle">.</text><text transform="translate(559.89 53.60) scale(1.004 1)" text-anchor="middle">0</text><text transform="translate(567.72 53.60) scale(0.959 1)" text-anchor="middle">1</text></g>
</svg>
</body></html>
